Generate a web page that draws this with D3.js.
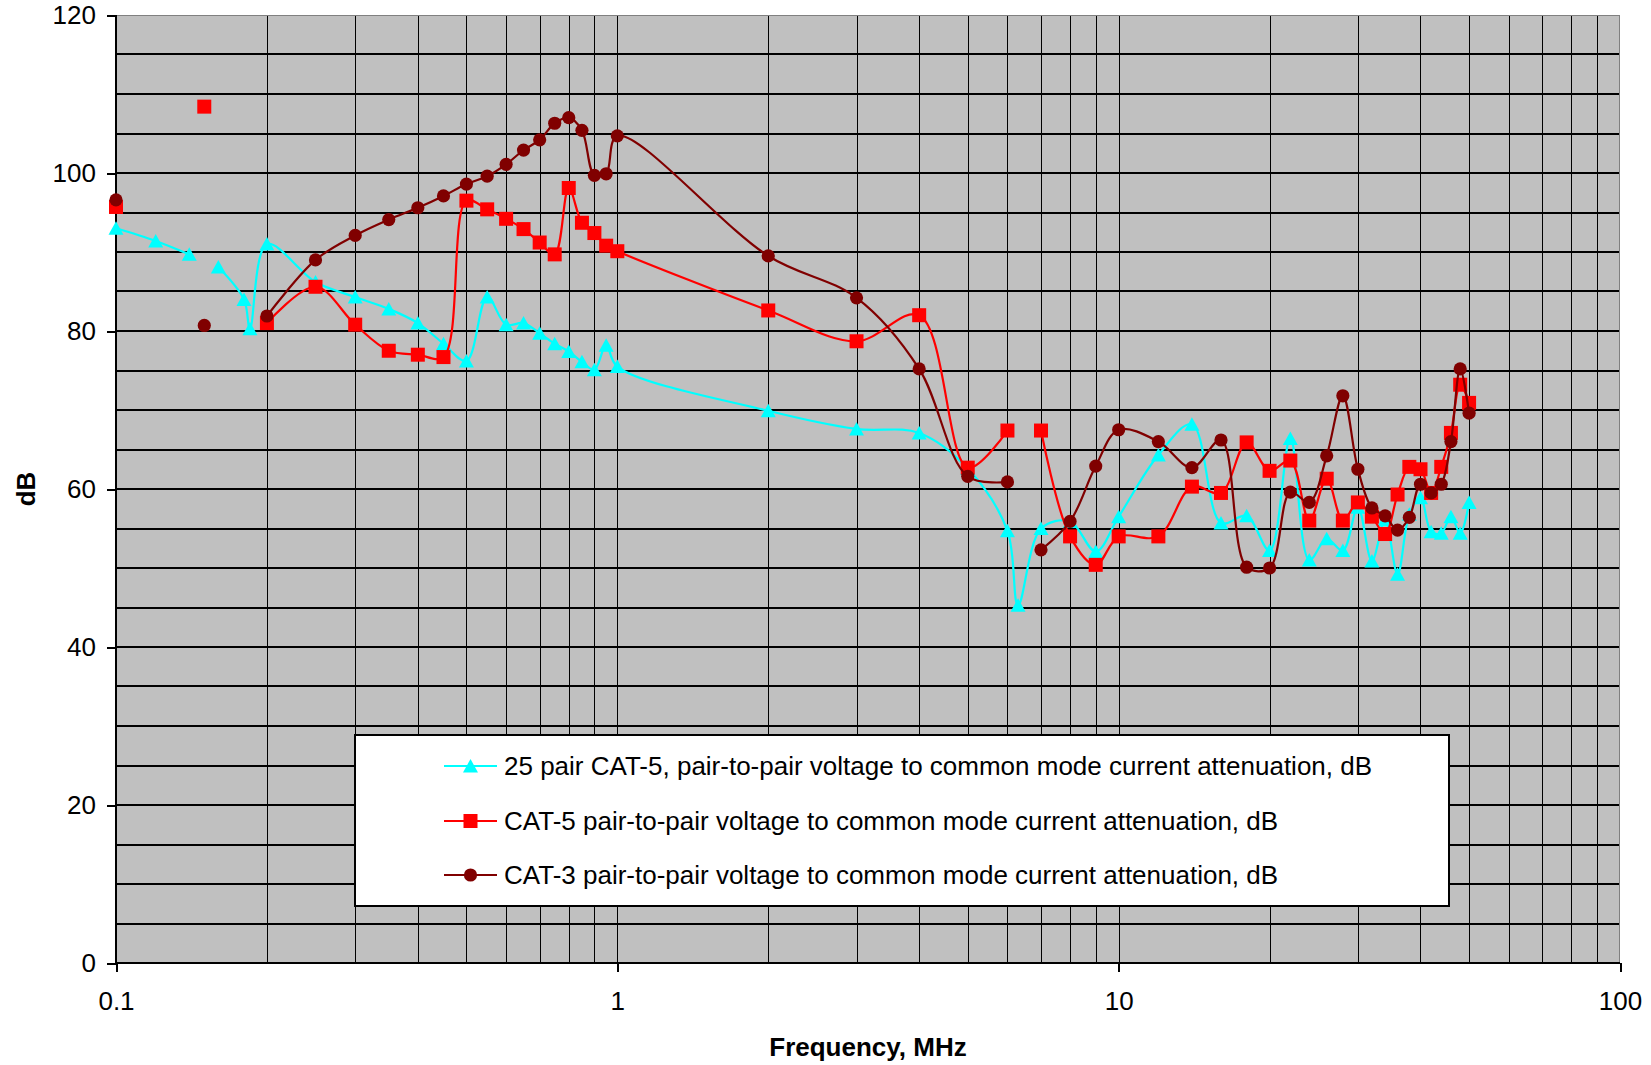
<!DOCTYPE html>
<html>
<head>
<meta charset="utf-8">
<script src="https://cdn.jsdelivr.net/npm/d3@7"></script>
<style>
  html, body { margin: 0; padding: 0; background: #fff; }
  svg { display: block; font-family: "Liberation Sans", Arial, sans-serif; }
</style>
</head>
<body>
<svg id="chart" width="1651" height="1065"></svg>
<script>
// ---- data (frequency in MHz, attenuation in dB; null = no measurement) ----
const freqs = [0.1, 0.12, 0.14, 0.15, 0.16, 0.18, 0.185, 0.2, 0.25, 0.3, 0.35, 0.4, 0.45, 0.5, 0.55, 0.6, 0.65, 0.7, 0.75, 0.8, 0.85, 0.9, 0.95, 1,
  2, 3, 4, 5, 6, 6.3, 7, 8, 9, 10, 12, 14, 16, 18, 20, 22, 24, 26, 28, 30, 32, 34, 36, 38, 40, 42, 44, 46, 48, 50];

const cat5pair25 = [93.0, 91.4, 89.7, null, 88.1, 84.0, 80.3, 91.0, 86.2, 84.3, 82.8, 81.0, 78.4, 76.2, 84.3, 80.8, 81.0, 79.7, 78.4, 77.4, 76.1, 75.1, 78.2, 75.5,
  69.9, 67.6, 67.1, 62.6, 54.7, 45.3, 55.0, 55.9, 52.1, 56.5, 64.3, 68.2, 55.7, 56.6, 52.2, 66.4, 51.0, 53.7, 52.2, 57.7, 50.9, 56.1, 49.2, 56.8, 58.9, 54.6, 54.4, 56.5, 54.4, 58.3];

const cat5 = [95.7, null, null, 108.4, null, null, null, 81.0, 85.6, 80.8, 77.5, 77.0, 76.7, 96.5, 95.4, 94.2, 92.9, 91.2, 89.7, 98.1, 93.7, 92.4, 90.8, 90.1,
  82.6, 78.7, 82.0, 62.7, 67.4, null, 67.4, 54.0, 50.4, 54.0, 54.0, 60.3, 59.5, 65.9, 62.3, 63.6, 56.0, 61.3, 56.0, 58.3, 56.5, 54.3, 59.3, 62.8, 62.5, 59.5, 62.8, 67.1, 73.2, 70.9];

const cat3 = [96.6, null, null, 80.7, null, null, null, 81.9, 89.0, 92.1, 94.1, 95.6, 97.1, 98.6, 99.6, 101.1, 102.9, 104.2, 106.3, 107.0, 105.4, 99.7, 99.9, 104.7,
  89.5, 84.2, 75.2, 61.6, 60.9, null, 52.3, 55.9, 62.9, 67.5, 66.0, 62.7, 66.2, 50.1, 50.0, 59.6, 58.3, 64.2, 71.8, 62.5, 57.6, 56.6, 54.8, 56.4, 60.6, 59.5, 60.6, 66.0, 75.2, 69.6];

const seriesNames = [
  "25 pair CAT-5, pair-to-pair voltage to common mode current attenuation, dB",
  "CAT-5 pair-to-pair voltage to common mode current attenuation, dB",
  "CAT-3 pair-to-pair voltage to common mode current attenuation, dB"
];
const seriesColors = ["#00FFFF", "#FF0000", "#800000"];
const seriesMarkers = ["triangle", "square", "circle"];

const yTicks = [0, 20, 40, 60, 80, 100, 120];
const xTicks = [0.1, 1, 10, 100];
const xTickLabels = ["0.1", "1", "10", "100"];
const xTitle = "Frequency, MHz";
const yTitle = "dB";

// ---- layout ----
const L = 116, R = 1620, T = 15, B = 963;
const svg = d3.select("#chart");
const x = d3.scaleLog().domain([0.1, 100]).range([L, R]);
const y = d3.scaleLinear().domain([0, 120]).range([B, T]);

// plot background
svg.append("rect").attr("x", L).attr("y", T).attr("width", R - L).attr("height", B - T).attr("fill", "#C0C0C0");

// vertical gridlines (log minor/major)
const vGrid = [];
[0.1, 1, 10].forEach(dec => { for (let k = 1; k <= 9; k++) { const v = dec * k; if (v > 0.1) vGrid.push(v); } });
svg.append("g").selectAll("line").data(vGrid).join("line")
  .attr("x1", d => Math.round(x(d)) + 0.5).attr("x2", d => Math.round(x(d)) + 0.5)
  .attr("y1", T).attr("y2", B)
  .attr("stroke", "#000").attr("stroke-width", 1).attr("shape-rendering", "crispEdges");

// horizontal gridlines every 5 dB
const hGrid = d3.range(5, 120, 5);
svg.append("g").selectAll("line").data(hGrid).join("line")
  .attr("x1", L).attr("x2", R)
  .attr("y1", d => Math.round(y(d))).attr("y2", d => Math.round(y(d)))
  .attr("stroke", "#000").attr("stroke-width", 2).attr("shape-rendering", "crispEdges");

// top & right border (gray)
svg.append("path").attr("d", `M${L},${T + 0.5}H${R - 0.5}V${B}`)
  .attr("fill", "none").attr("stroke", "#808080").attr("stroke-width", 1).attr("shape-rendering", "crispEdges");

// axes
const yAxis = d3.axisLeft(y).tickValues(yTicks).tickSize(9).tickPadding(11).tickFormat(d3.format("d"));
const gy = svg.append("g").attr("transform", `translate(${L},0)`).call(yAxis);
const xAxis = d3.axisBottom(x).tickValues(xTicks).tickSize(9).tickPadding(20).tickFormat((d, i) => xTickLabels[i]);
const gx = svg.append("g").attr("transform", `translate(0,${B})`).call(xAxis);
[gx, gy].forEach(g => {
  g.select(".domain").attr("stroke", "#000").attr("stroke-width", 2).attr("shape-rendering", "crispEdges");
  g.selectAll(".tick line").attr("stroke", "#000").attr("stroke-width", 2).attr("shape-rendering", "crispEdges");
  g.selectAll(".tick text").attr("font-size", 26).attr("fill", "#000").attr("font-family", "Liberation Sans, Arial, sans-serif");
});
gy.select(".domain").attr("d", `M0,${T}V${B}`);
gx.select(".domain").attr("d", `M${L},0H${R}`);

// axis titles
svg.append("text").attr("x", (L + R) / 2).attr("y", 1056).attr("text-anchor", "middle")
  .attr("font-size", 26).attr("font-weight", "bold").text(xTitle);
svg.append("text").attr("transform", `translate(35,${(T + B) / 2}) rotate(-90)`).attr("text-anchor", "middle")
  .attr("font-size", 26).attr("font-weight", "bold").text(yTitle);

// marker drawing
function drawMarker(g, type, color) {
  if (type === "triangle") {
    g.append("path").attr("d", "M0,-7L7.5,6.5L-7.5,6.5Z").attr("fill", color);
  } else if (type === "square") {
    g.append("rect").attr("x", -7).attr("y", -7).attr("width", 14).attr("height", 14).attr("fill", color);
  } else {
    g.append("circle").attr("r", 6.6).attr("fill", color);
  }
}

// series
const allSeries = [cat5pair25, cat5, cat3];
const line = d3.line()
  .defined(d => d.v != null)
  .x(d => x(d.f)).y(d => y(d.v))
  .curve(d3.curveCatmullRom.alpha(0.5));

allSeries.forEach((vals, si) => {
  const pts = freqs.map((f, i) => ({ f, v: vals[i] }));
  const g = svg.append("g");
  g.append("path").datum(pts).attr("d", line)
    .attr("fill", "none").attr("stroke", seriesColors[si]).attr("stroke-width", 2.2).attr("stroke-linejoin", "round");
  pts.filter(p => p.v != null).forEach(p => {
    const mg = g.append("g").attr("transform", `translate(${x(p.f)},${y(p.v)})`);
    drawMarker(mg, seriesMarkers[si], seriesColors[si]);
  });
});

// legend
const lg = svg.append("g");
lg.append("rect").attr("x", 355).attr("y", 735).attr("width", 1094).attr("height", 171)
  .attr("fill", "#fff").attr("stroke", "#000").attr("stroke-width", 2);
const legendY = [766, 821, 875];
seriesNames.forEach((name, i) => {
  const row = lg.append("g").attr("transform", `translate(0,${legendY[i]})`);
  row.append("line").attr("x1", 444).attr("x2", 497).attr("y1", 0).attr("y2", 0)
    .attr("stroke", seriesColors[i]).attr("stroke-width", 2.2);
  drawMarker(row.append("g").attr("transform", "translate(470.5,0)"), seriesMarkers[i], seriesColors[i]);
  row.append("text").attr("x", 504).attr("y", 0).attr("dy", "0.35em")
    .attr("font-size", 26).attr("fill", "#000").text(name);
});
</script>
</body>
</html>
